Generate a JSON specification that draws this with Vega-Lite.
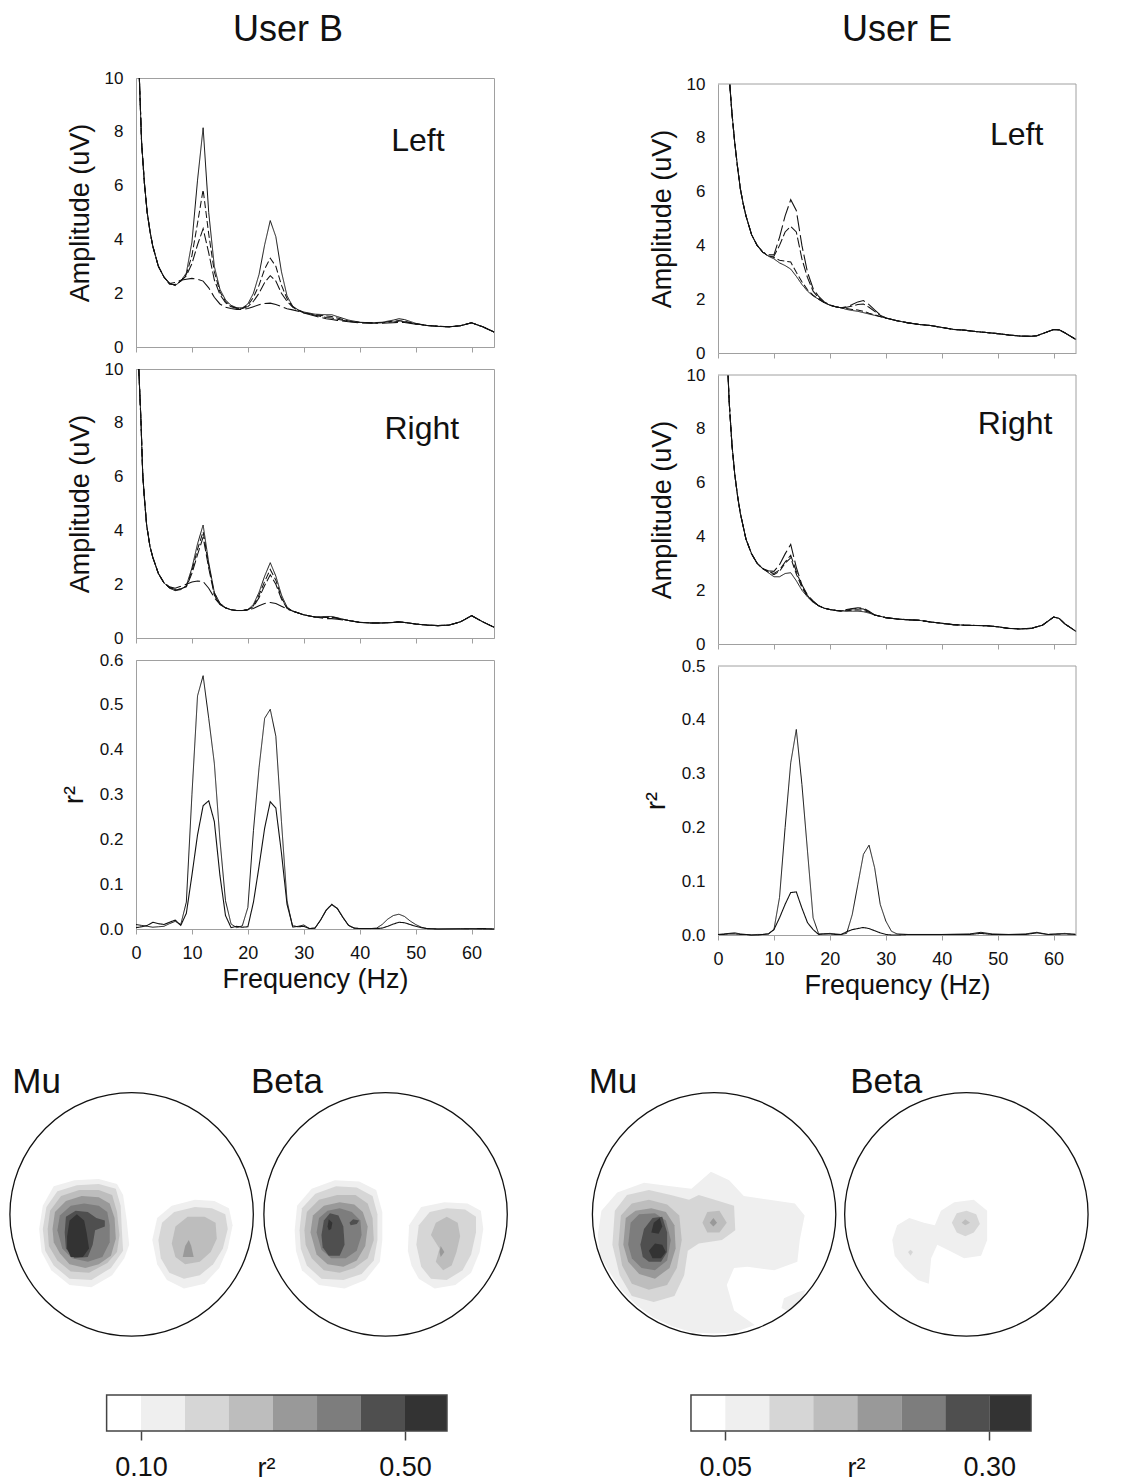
{
  "$schema": "https://vega.github.io/schema/vega-lite/v6.json",
  "padding": {"left": 7, "top": 11, "right": 5, "bottom": 0},
  "config": {
    "font": "Liberation Sans",
    "view": {"stroke": "#a0a0a0"},
    "axis": {"grid": false, "domainColor": "#a0a0a0", "tickColor": "#a0a0a0", "labelColor": "#111", "titleColor": "#111", "labelFont": "Liberation Sans", "titleFont": "Liberation Sans", "titleFontWeight": "normal", "labelFontSize": 17, "titleFontSize": 27, "labelFlush": false},
    "title": {"font": "Liberation Sans", "fontWeight": "normal", "color": "#111"},
    "text": {"font": "Liberation Sans", "color": "#111"}
  },
  "datasets": {
    "bL": [
      {"f":0.6,"S":10,"A":10,"B":10,"L":10},
      {"f":1,"S":7.6,"A":7.6,"B":7.6,"L":7.6},
      {"f":1.5,"S":6.1,"A":6.1,"B":6.1,"L":6.1},
      {"f":2,"S":5,"A":5,"B":5,"L":5},
      {"f":2.5,"S":4.3,"A":4.3,"B":4.3,"L":4.3},
      {"f":3,"S":3.75,"A":3.75,"B":3.75,"L":3.75},
      {"f":4,"S":3,"A":3,"B":3,"L":3},
      {"f":5,"S":2.6,"A":2.6,"B":2.6,"L":2.6},
      {"f":6,"S":2.38,"A":2.36,"B":2.33,"L":2.36},
      {"f":7,"S":2.28,"A":2.3,"B":2.32,"L":2.4},
      {"f":8,"S":2.45,"A":2.45,"B":2.45,"L":2.48},
      {"f":9,"S":2.75,"A":2.7,"B":2.65,"L":2.52},
      {"f":10,"S":3.9,"A":3.4,"B":3.1,"L":2.55},
      {"f":11,"S":6.2,"A":4.6,"B":3.8,"L":2.52},
      {"f":12,"S":8.15,"A":5.85,"B":4.4,"L":2.45},
      {"f":13,"S":5,"A":4.2,"B":3.5,"L":2.2},
      {"f":14,"S":3,"A":2.8,"B":2.5,"L":1.85},
      {"f":15,"S":2.15,"A":2.05,"B":1.95,"L":1.6},
      {"f":16,"S":1.75,"A":1.7,"B":1.65,"L":1.48},
      {"f":17,"S":1.55,"A":1.52,"B":1.5,"L":1.43},
      {"f":18,"S":1.46,"A":1.45,"B":1.44,"L":1.4},
      {"f":19,"S":1.45,"A":1.44,"B":1.43,"L":1.4},
      {"f":20,"S":1.6,"A":1.55,"B":1.5,"L":1.43},
      {"f":21,"S":2,"A":1.85,"B":1.7,"L":1.5},
      {"f":22,"S":2.7,"A":2.3,"B":2,"L":1.57},
      {"f":23,"S":3.8,"A":2.9,"B":2.4,"L":1.62},
      {"f":24,"S":4.7,"A":3.3,"B":2.65,"L":1.63},
      {"f":25,"S":4.1,"A":3,"B":2.45,"L":1.58},
      {"f":26,"S":2.8,"A":2.3,"B":2,"L":1.5},
      {"f":27,"S":1.9,"A":1.8,"B":1.7,"L":1.42},
      {"f":28,"S":1.52,"A":1.5,"B":1.48,"L":1.38},
      {"f":29,"S":1.38,"A":1.37,"B":1.36,"L":1.33},
      {"f":30,"S":1.3,"A":1.28,"B":1.27,"L":1.26},
      {"f":32,"S":1.22,"A":1.2,"B":1.18,"L":1.15},
      {"f":34,"S":1.2,"A":1.15,"B":1.1,"L":1.05},
      {"f":35,"S":1.2,"A":1.13,"B":1.08,"L":1.02},
      {"f":36,"S":1.13,"A":1.08,"B":1.03,"L":0.99},
      {"f":38,"S":1,"A":0.97,"B":0.95,"L":0.94},
      {"f":40,"S":0.92,"A":0.92,"B":0.91,"L":0.9},
      {"f":42,"S":0.9,"A":0.9,"B":0.89,"L":0.88},
      {"f":44,"S":0.92,"A":0.91,"B":0.9,"L":0.88},
      {"f":46,"S":1,"A":0.96,"B":0.93,"L":0.9},
      {"f":47,"S":1.05,"A":0.98,"B":0.95,"L":0.92},
      {"f":48,"S":1.02,"A":0.96,"B":0.94,"L":0.91},
      {"f":50,"S":0.88,"A":0.86,"B":0.86,"L":0.85},
      {"f":52,"S":0.8,"A":0.8,"B":0.8,"L":0.8},
      {"f":54,"S":0.77,"A":0.77,"B":0.77,"L":0.77},
      {"f":56,"S":0.75,"A":0.75,"B":0.75,"L":0.75},
      {"f":58,"S":0.79,"A":0.79,"B":0.79,"L":0.79},
      {"f":60,"S":0.9,"A":0.9,"B":0.9,"L":0.9},
      {"f":62,"S":0.75,"A":0.75,"B":0.75,"L":0.75},
      {"f":64,"S":0.56,"A":0.56,"B":0.56,"L":0.56}
    ],
    "bR": [
      {"f":0.5,"S":10,"A":10,"B":10,"L":10},
      {"f":0.9,"S":8,"A":8,"B":8,"L":8},
      {"f":1.2,"S":6.1,"A":6.1,"B":6.1,"L":6.1},
      {"f":1.5,"S":5.2,"A":5.2,"B":5.2,"L":5.2},
      {"f":1.9,"S":4.2,"A":4.2,"B":4.2,"L":4.2},
      {"f":2.5,"S":3.4,"A":3.4,"B":3.4,"L":3.4},
      {"f":3,"S":3,"A":3,"B":3,"L":3},
      {"f":4,"S":2.4,"A":2.4,"B":2.4,"L":2.4},
      {"f":5,"S":2.05,"A":2.05,"B":2.05,"L":2.05},
      {"f":6,"S":1.85,"A":1.87,"B":1.88,"L":1.9},
      {"f":7,"S":1.76,"A":1.78,"B":1.8,"L":1.85},
      {"f":8,"S":1.8,"A":1.82,"B":1.83,"L":1.92},
      {"f":9,"S":1.95,"A":1.93,"B":1.9,"L":2},
      {"f":10,"S":2.6,"A":2.5,"B":2.4,"L":2.08},
      {"f":11,"S":3.5,"A":3.3,"B":3.1,"L":2.12},
      {"f":12,"S":4.2,"A":3.95,"B":3.75,"L":2.1},
      {"f":13,"S":2.8,"A":2.7,"B":2.6,"L":1.85},
      {"f":14,"S":1.7,"A":1.65,"B":1.6,"L":1.5},
      {"f":15,"S":1.3,"A":1.28,"B":1.25,"L":1.25},
      {"f":16,"S":1.12,"A":1.12,"B":1.12,"L":1.12},
      {"f":17,"S":1.05,"A":1.05,"B":1.05,"L":1.05},
      {"f":18,"S":1.02,"A":1.02,"B":1.02,"L":1.02},
      {"f":19,"S":1.02,"A":1.02,"B":1.02,"L":1.02},
      {"f":20,"S":1.05,"A":1.05,"B":1.05,"L":1.05},
      {"f":21,"S":1.25,"A":1.2,"B":1.17,"L":1.1},
      {"f":22,"S":1.7,"A":1.6,"B":1.5,"L":1.2},
      {"f":23,"S":2.3,"A":2.1,"B":1.95,"L":1.28},
      {"f":24,"S":2.8,"A":2.55,"B":2.35,"L":1.32},
      {"f":25,"S":2.3,"A":2.15,"B":2,"L":1.28},
      {"f":26,"S":1.6,"A":1.5,"B":1.45,"L":1.18},
      {"f":27,"S":1.15,"A":1.12,"B":1.1,"L":1.08},
      {"f":28,"S":1,"A":1,"B":1,"L":1},
      {"f":30,"S":0.86,"A":0.86,"B":0.86,"L":0.86},
      {"f":32,"S":0.78,"A":0.78,"B":0.78,"L":0.78},
      {"f":34,"S":0.8,"A":0.78,"B":0.76,"L":0.72},
      {"f":35,"S":0.8,"A":0.79,"B":0.77,"L":0.72},
      {"f":36,"S":0.75,"A":0.74,"B":0.73,"L":0.7},
      {"f":38,"S":0.65,"A":0.65,"B":0.65,"L":0.65},
      {"f":40,"S":0.58,"A":0.58,"B":0.58,"L":0.58},
      {"f":42,"S":0.56,"A":0.56,"B":0.56,"L":0.56},
      {"f":44,"S":0.56,"A":0.56,"B":0.56,"L":0.56},
      {"f":46,"S":0.58,"A":0.58,"B":0.58,"L":0.58},
      {"f":47,"S":0.6,"A":0.6,"B":0.6,"L":0.6},
      {"f":48,"S":0.58,"A":0.58,"B":0.58,"L":0.58},
      {"f":50,"S":0.52,"A":0.52,"B":0.52,"L":0.52},
      {"f":52,"S":0.48,"A":0.48,"B":0.48,"L":0.48},
      {"f":54,"S":0.46,"A":0.46,"B":0.46,"L":0.46},
      {"f":56,"S":0.48,"A":0.48,"B":0.48,"L":0.48},
      {"f":58,"S":0.6,"A":0.6,"B":0.6,"L":0.6},
      {"f":60,"S":0.83,"A":0.83,"B":0.83,"L":0.83},
      {"f":62,"S":0.6,"A":0.6,"B":0.6,"L":0.6},
      {"f":64,"S":0.4,"A":0.4,"B":0.4,"L":0.4}
    ],
    "bQ": [
      {"f":0,"S":0.01,"D":0.003},{"f":1,"S":0.008,"D":0.005},{"f":2,"S":0.006,"D":0.008},{"f":3,"S":0.004,"D":0.015},
      {"f":4,"S":0.005,"D":0.012},{"f":5,"S":0.006,"D":0.01},{"f":6,"S":0.012,"D":0.015},{"f":7,"S":0.017,"D":0.02},
      {"f":8,"S":0.01,"D":0.008},{"f":9,"S":0.06,"D":0.035},{"f":10,"S":0.3,"D":0.12},{"f":11,"S":0.52,"D":0.21},
      {"f":12,"S":0.565,"D":0.275},{"f":13,"S":0.47,"D":0.286},{"f":14,"S":0.37,"D":0.24},{"f":15,"S":0.2,"D":0.12},
      {"f":16,"S":0.063,"D":0.03},{"f":17,"S":0.011,"D":0.003},{"f":18,"S":0.003,"D":0.006},{"f":19,"S":0.007,"D":0.004},
      {"f":20,"S":0.048,"D":0.005},{"f":21,"S":0.22,"D":0.06},{"f":22,"S":0.36,"D":0.14},{"f":23,"S":0.47,"D":0.225},
      {"f":24,"S":0.49,"D":0.284},{"f":25,"S":0.43,"D":0.27},{"f":26,"S":0.24,"D":0.17},{"f":27,"S":0.063,"D":0.055},
      {"f":28,"S":0.004,"D":0.007},{"f":29,"S":0.006,"D":0.005},{"f":30,"S":0.009,"D":0.006},{"f":31,"S":0.001,"D":0.001},
      {"f":32,"S":0.002,"D":0.002},{"f":33,"S":0.02,"D":0.02},{"f":34,"S":0.042,"D":0.042},{"f":35,"S":0.054,"D":0.055},
      {"f":36,"S":0.045,"D":0.046},{"f":37,"S":0.025,"D":0.026},{"f":38,"S":0.008,"D":0.008},{"f":39,"S":0.002,"D":0.002},
      {"f":40,"S":0.001,"D":0.001},{"f":42,"S":0.001,"D":0.001},{"f":43,"S":0.002,"D":0.001},{"f":44,"S":0.01,"D":0.002},
      {"f":45,"S":0.022,"D":0.006},{"f":46,"S":0.03,"D":0.011},{"f":47,"S":0.033,"D":0.015},{"f":48,"S":0.028,"D":0.014},
      {"f":49,"S":0.018,"D":0.01},{"f":50,"S":0.01,"D":0.006},{"f":51,"S":0.004,"D":0.003},{"f":52,"S":0.001,"D":0.001},
      {"f":54,"S":0,"D":0},{"f":58,"S":0.001,"D":0},{"f":62,"S":0,"D":0.001},{"f":64,"S":0,"D":0}
    ],
    "eL": [
      {"f":2.1,"S":10,"A":10,"B":10,"L":10},
      {"f":2.5,"S":8.9,"A":8.9,"B":8.9,"L":8.9},
      {"f":3,"S":7.8,"A":7.8,"B":7.8,"L":7.8},
      {"f":3.5,"S":6.9,"A":6.9,"B":6.9,"L":6.9},
      {"f":4,"S":6.1,"A":6.1,"B":6.1,"L":6.1},
      {"f":4.5,"S":5.55,"A":5.55,"B":5.55,"L":5.55},
      {"f":5,"S":5.1,"A":5.1,"B":5.1,"L":5.1},
      {"f":6,"S":4.4,"A":4.4,"B":4.4,"L":4.4},
      {"f":7,"S":4,"A":4,"B":4,"L":4},
      {"f":8,"S":3.75,"A":3.75,"B":3.75,"L":3.75},
      {"f":9,"S":3.6,"A":3.62,"B":3.6,"L":3.65},
      {"f":10,"S":3.5,"A":3.55,"B":3.6,"L":3.65},
      {"f":11,"S":3.35,"A":3.45,"B":4,"L":4.3},
      {"f":12,"S":3.25,"A":3.42,"B":4.5,"L":5.1},
      {"f":13,"S":3.12,"A":3.38,"B":4.7,"L":5.7},
      {"f":14,"S":2.85,"A":3,"B":4.5,"L":5.3},
      {"f":15,"S":2.55,"A":2.65,"B":3.5,"L":4},
      {"f":16,"S":2.3,"A":2.35,"B":2.8,"L":3},
      {"f":17,"S":2.12,"A":2.15,"B":2.3,"L":2.4},
      {"f":18,"S":2,"A":2,"B":2.05,"L":2.1},
      {"f":19,"S":1.87,"A":1.87,"B":1.88,"L":1.9},
      {"f":20,"S":1.78,"A":1.78,"B":1.78,"L":1.78},
      {"f":21,"S":1.72,"A":1.72,"B":1.72,"L":1.72},
      {"f":22,"S":1.68,"A":1.68,"B":1.68,"L":1.68},
      {"f":23,"S":1.62,"A":1.65,"B":1.7,"L":1.72},
      {"f":24,"S":1.58,"A":1.62,"B":1.75,"L":1.8},
      {"f":25,"S":1.55,"A":1.6,"B":1.8,"L":1.9},
      {"f":26,"S":1.5,"A":1.55,"B":1.82,"L":1.95},
      {"f":27,"S":1.45,"A":1.48,"B":1.7,"L":1.8},
      {"f":28,"S":1.4,"A":1.42,"B":1.55,"L":1.6},
      {"f":29,"S":1.35,"A":1.36,"B":1.4,"L":1.42},
      {"f":30,"S":1.3,"A":1.3,"B":1.3,"L":1.3},
      {"f":32,"S":1.2,"A":1.2,"B":1.2,"L":1.2},
      {"f":34,"S":1.12,"A":1.12,"B":1.12,"L":1.12},
      {"f":36,"S":1.06,"A":1.06,"B":1.06,"L":1.06},
      {"f":38,"S":1.02,"A":1.02,"B":1.02,"L":1.02},
      {"f":40,"S":0.95,"A":0.95,"B":0.95,"L":0.95},
      {"f":42,"S":0.88,"A":0.88,"B":0.88,"L":0.88},
      {"f":44,"S":0.85,"A":0.85,"B":0.85,"L":0.85},
      {"f":46,"S":0.8,"A":0.8,"B":0.8,"L":0.8},
      {"f":48,"S":0.76,"A":0.76,"B":0.76,"L":0.76},
      {"f":50,"S":0.72,"A":0.72,"B":0.72,"L":0.72},
      {"f":52,"S":0.67,"A":0.67,"B":0.67,"L":0.67},
      {"f":54,"S":0.63,"A":0.63,"B":0.63,"L":0.63},
      {"f":56,"S":0.62,"A":0.62,"B":0.62,"L":0.62},
      {"f":57,"S":0.64,"A":0.64,"B":0.64,"L":0.64},
      {"f":58,"S":0.72,"A":0.72,"B":0.72,"L":0.72},
      {"f":60,"S":0.87,"A":0.87,"B":0.87,"L":0.87},
      {"f":61,"S":0.86,"A":0.86,"B":0.86,"L":0.86},
      {"f":62,"S":0.75,"A":0.75,"B":0.75,"L":0.75},
      {"f":64,"S":0.5,"A":0.5,"B":0.5,"L":0.5}
    ],
    "eR": [
      {"f":1.8,"S":10,"A":10,"B":10,"L":10},
      {"f":2,"S":9,"A":9,"B":9,"L":9},
      {"f":2.5,"S":7.4,"A":7.4,"B":7.4,"L":7.4},
      {"f":3,"S":6.3,"A":6.3,"B":6.3,"L":6.3},
      {"f":3.5,"S":5.5,"A":5.5,"B":5.5,"L":5.5},
      {"f":4,"S":4.85,"A":4.85,"B":4.85,"L":4.85},
      {"f":5,"S":3.9,"A":3.9,"B":3.9,"L":3.9},
      {"f":6,"S":3.35,"A":3.35,"B":3.35,"L":3.35},
      {"f":7,"S":3,"A":3,"B":3,"L":3},
      {"f":8,"S":2.8,"A":2.8,"B":2.8,"L":2.8},
      {"f":9,"S":2.65,"A":2.68,"B":2.7,"L":2.72},
      {"f":10,"S":2.5,"A":2.58,"B":2.62,"L":2.7},
      {"f":11,"S":2.5,"A":2.7,"B":2.75,"L":2.95},
      {"f":12,"S":2.62,"A":3,"B":3.05,"L":3.35},
      {"f":13,"S":2.65,"A":3.2,"B":3.3,"L":3.7},
      {"f":14,"S":2.35,"A":2.6,"B":2.7,"L":2.85},
      {"f":15,"S":2,"A":2.1,"B":2.15,"L":2.2},
      {"f":16,"S":1.75,"A":1.78,"B":1.8,"L":1.82},
      {"f":17,"S":1.55,"A":1.57,"B":1.58,"L":1.6},
      {"f":18,"S":1.42,"A":1.42,"B":1.42,"L":1.42},
      {"f":19,"S":1.33,"A":1.33,"B":1.33,"L":1.33},
      {"f":20,"S":1.28,"A":1.28,"B":1.28,"L":1.28},
      {"f":21,"S":1.25,"A":1.25,"B":1.25,"L":1.25},
      {"f":22,"S":1.23,"A":1.23,"B":1.23,"L":1.23},
      {"f":23,"S":1.22,"A":1.24,"B":1.26,"L":1.28},
      {"f":24,"S":1.22,"A":1.26,"B":1.3,"L":1.32},
      {"f":25,"S":1.22,"A":1.27,"B":1.32,"L":1.35},
      {"f":26,"S":1.2,"A":1.25,"B":1.3,"L":1.33},
      {"f":27,"S":1.15,"A":1.18,"B":1.2,"L":1.22},
      {"f":28,"S":1.08,"A":1.08,"B":1.08,"L":1.08},
      {"f":30,"S":0.98,"A":0.98,"B":0.98,"L":0.98},
      {"f":32,"S":0.93,"A":0.93,"B":0.93,"L":0.93},
      {"f":34,"S":0.9,"A":0.9,"B":0.9,"L":0.9},
      {"f":36,"S":0.88,"A":0.88,"B":0.88,"L":0.88},
      {"f":38,"S":0.82,"A":0.82,"B":0.82,"L":0.82},
      {"f":40,"S":0.77,"A":0.77,"B":0.77,"L":0.77},
      {"f":42,"S":0.72,"A":0.72,"B":0.72,"L":0.72},
      {"f":44,"S":0.7,"A":0.7,"B":0.7,"L":0.7},
      {"f":46,"S":0.69,"A":0.69,"B":0.69,"L":0.69},
      {"f":48,"S":0.68,"A":0.68,"B":0.68,"L":0.68},
      {"f":50,"S":0.64,"A":0.64,"B":0.64,"L":0.64},
      {"f":52,"S":0.58,"A":0.58,"B":0.58,"L":0.58},
      {"f":54,"S":0.56,"A":0.56,"B":0.56,"L":0.56},
      {"f":56,"S":0.58,"A":0.58,"B":0.58,"L":0.58},
      {"f":58,"S":0.7,"A":0.7,"B":0.7,"L":0.7},
      {"f":60,"S":1,"A":1,"B":1,"L":1},
      {"f":61,"S":0.95,"A":0.95,"B":0.95,"L":0.95},
      {"f":62,"S":0.75,"A":0.75,"B":0.75,"L":0.75},
      {"f":64,"S":0.47,"A":0.47,"B":0.47,"L":0.47}
    ],
    "eQ": [
      {"f":0,"S":0.001,"D":0.001},{"f":1,"S":0.002,"D":0.001},{"f":2,"S":0.003,"D":0.002},{"f":3,"S":0.004,"D":0.002},
      {"f":4,"S":0.002,"D":0.001},{"f":5,"S":0.001,"D":0.001},{"f":6,"S":0,"D":0},{"f":7,"S":0.001,"D":0},
      {"f":8,"S":0.001,"D":0.001},{"f":9,"S":0.002,"D":0.002},{"f":10,"S":0.01,"D":0.01},{"f":11,"S":0.07,"D":0.032},
      {"f":12,"S":0.2,"D":0.057},{"f":13,"S":0.32,"D":0.079},{"f":14,"S":0.382,"D":0.08},{"f":15,"S":0.28,"D":0.05},
      {"f":16,"S":0.156,"D":0.023},{"f":17,"S":0.032,"D":0.01},{"f":18,"S":0.002,"D":0.001},{"f":19,"S":0.002,"D":0.002},
      {"f":20,"S":0.003,"D":0.002},{"f":21,"S":0.002,"D":0.001},{"f":22,"S":0.001,"D":0.001},{"f":23,"S":0.003,"D":0.006},
      {"f":24,"S":0.038,"D":0.01},{"f":25,"S":0.094,"D":0.012},{"f":26,"S":0.15,"D":0.014},{"f":27,"S":0.167,"D":0.012},
      {"f":28,"S":0.125,"D":0.008},{"f":29,"S":0.057,"D":0.004},{"f":30,"S":0.026,"D":0.001},{"f":31,"S":0.007,"D":0},
      {"f":32,"S":0.002,"D":0},{"f":34,"S":0.001,"D":0.001},{"f":40,"S":0.001,"D":0.001},{"f":45,"S":0.002,"D":0.001},
      {"f":47,"S":0.005,"D":0.003},{"f":49,"S":0.002,"D":0.001},{"f":52,"S":0.001,"D":0.001},{"f":55,"S":0.002,"D":0.001},
      {"f":57,"S":0.005,"D":0.004},{"f":59,"S":0.001,"D":0.001},{"f":62,"S":0.003,"D":0.002},{"f":64,"S":0.001,"D":0.001}
    ],
    "topo": [
      {"u":"B","p":"1a","lv":1,"x":[-76,-73,-64,-47,-27,-12,-7,-4,-2,-6,-16,-33,-51,-66,-74],"y":[-12,7,23,28,29,25,16,-5,-25,-36,-50,-60,-58,-46,-31]},
      {"u":"B","p":"1b","lv":1,"x":[17,21,33,52,68,80,83,79,72,60,43,29,21],"y":[-21,-3,7,12,11,5,-9,-28,-44,-57,-61,-54,-41]},
      {"u":"B","p":"1c","lv":1,"x":[134,136,148,167,187,201,206,206,204,192,175,154,140,135],"y":[-13,7,21,28,27,20,2,-21,-39,-54,-61,-58,-46,-30]},
      {"u":"B","p":"1d","lv":1,"x":[227,228,238,257,276,287,289,286,279,266,249,236,230],"y":[-30,-9,6,10,9,3,-12,-31,-48,-58,-61,-53,-42]},
      {"u":"E","p":"1e","lv":1,"x":[385,383,386,399,421,443,460,476,491,503,524,545,553,549,547,528,506,495,489,495,512,495,478,461,444,429,415,402,393],"y":[-34,-17,3,18,26,23,21,35,28,15,12,9,-1,-21,-39,-46,-43,-44,-58,-79,-91,-97,-98,-97,-92,-85,-75,-62,-48]},
      {"u":"E","p":"1f","lv":1,"x":[536,547,554,549,540,534],"y":[-69,-64,-62,-73,-80,-77]},
      {"u":"E","p":"1g","lv":1,"x":[625,629,639,651,660,665,676,692,703,703,698,684,672,662,657,655,646,635,627],"y":[-21,-9,-3,-7,-9,3,10,12,3,-21,-34,-36,-30,-25,-36,-57,-54,-44,-34]},
      {"u":"B","p":"2a","lv":2,"x":[-73,-70,-61,-45,-27,-13,-9,-8,-7,-17,-33,-51,-64,-71],"y":[-12,6,19,24,25,21,7,-13,-30,-44,-54,-53,-42,-30]},
      {"u":"B","p":"2b","lv":2,"x":[22,25,35,52,66,77,79,75,67,56,43,31,24],"y":[-21,-7,2,6,5,0,-12,-28,-41,-50,-53,-48,-36]},
      {"u":"B","p":"2c","lv":2,"x":[138,140,151,168,185,198,202,202,199,189,174,156,144,139],"y":[-13,5,17,23,22,15,0,-21,-38,-49,-54,-53,-42,-28]},
      {"u":"B","p":"2d","lv":2,"x":[234,236,245,259,274,283,283,279,272,259,246,238],"y":[-25,-9,2,5,4,-2,-15,-33,-46,-54,-53,-43]},
      {"u":"E","p":"2e","lv":2,"x":[395,397,407,425,443,458,466,479,495,496,485,466,457,454,446,429,411,401],"y":[-25,3,16,20,16,12,16,12,7,-13,-21,-24,-30,-50,-67,-72,-67,-50]},
      {"u":"E","p":"2f","lv":2,"x":[674,678,686,694,697,692,685,678],"y":[-7,1,3,0,-8,-15,-18,-15]},
      {"u":"E","p":"2g","lv":2,"x":[638,640,642,640],"y":[-31,-29,-31,-34]},
      {"u":"B","p":"3a","lv":3,"x":[-69,-67,-58,-43,-27,-16,-12,-10,-12,-20,-35,-50,-61,-68],"y":[-12,3,15,20,20,16,2,-17,-31,-40,-48,-47,-38,-26]},
      {"u":"B","p":"3b","lv":3,"x":[33,36,46,60,69,70,65,56,44,36],"y":[-24,-10,-2,-2,-7,-20,-31,-39,-41,-35]},
      {"u":"B","p":"3c","lv":3,"x":[142,144,154,169,184,194,198,199,194,183,171,158,148,143],"y":[-13,2,12,16,16,9,-3,-21,-36,-44,-48,-46,-36,-25]},
      {"u":"B","p":"3d","lv":3,"x":[246,250,259,268,270,267,263,256,250,253],"y":[-17,-7,-2,-7,-18,-31,-42,-46,-39,-28]},
      {"u":"E","p":"3e","lv":3,"x":[400,402,411,425,440,450,452,448,440,425,411,403],"y":[-25,-1,9,12,8,-1,-21,-44,-58,-62,-57,-42]},
      {"u":"E","p":"3f","lv":3,"x":[469,473,483,489,483,473],"y":[-7,2,3,-7,-15,-15]},
      {"u":"E","p":"3g","lv":3,"x":[682,685,689,685],"y":[-7,-4,-7,-9]},
      {"u":"B","p":"4a","lv":4,"x":[-65,-63,-54,-41,-27,-18,-14,-13,-17,-27,-38,-51,-59,-64],"y":[-12,2,11,15,14,9,-3,-20,-34,-41,-44,-41,-32,-23]},
      {"u":"B","p":"4b","lv":4,"x":[42,44,47,49,51],"y":[-35,-26,-21,-26,-35]},
      {"u":"B","p":"4c","lv":4,"x":[147,149,158,171,183,190,194,192,185,174,161,152],"y":[-15,-1,7,10,8,2,-10,-26,-38,-43,-41,-33]},
      {"u":"B","p":"4d","lv":4,"x":[253,254,257,254],"y":[-31,-26,-31,-35]},
      {"u":"E","p":"4e","lv":4,"x":[404,406,414,427,439,446,447,442,430,417,408],"y":[-25,-3,3,5,2,-9,-28,-44,-53,-49,-39]},
      {"u":"E","p":"4f","lv":4,"x":[475,478,481,478],"y":[-7,-3,-7,-10]},
      {"u":"B","p":"5a","lv":5,"x":[-61,-59,-50,-39,-27,-20,-18,-18,-24,-36,-49,-57],"y":[-13,-1,7,9,7,2,-9,-23,-35,-39,-36,-28]},
      {"u":"B","p":"5c","lv":5,"x":[152,154,161,171,181,188,189,185,176,164,156],"y":[-15,-3,3,5,2,-5,-17,-30,-36,-36,-29]},
      {"u":"E","p":"5e","lv":5,"x":[408,410,417,430,439,443,440,430,419,411],"y":[-25,-7,0,1,-5,-21,-38,-46,-44,-36]},
      {"u":"B","p":"6a","lv":6,"x":[-55,-54,-46,-36,-29,-22,-22,-30,-32,-36,-47,-54],"y":[-15,-2,3,2,-3,-5,-10,-13,-25,-35,-36,-28]},
      {"u":"B","p":"6c","lv":6,"x":[156,158,163,170,174,175,171,162,157],"y":[-17,-5,1,-1,-10,-25,-34,-34,-27]},
      {"u":"B","p":"6d","lv":6,"x":[179,182,187,185,180],"y":[-7,-4,-5,-8,-9]},
      {"u":"E","p":"6e","lv":6,"x":[418,421,428,436,440,440,435,425,420],"y":[-25,-12,-3,-2,-15,-31,-39,-39,-35]},
      {"u":"B","p":"7a","lv":7,"x":[-53,-51,-45,-39,-37,-35,-40,-50,-53],"y":[-18,-5,0,-5,-15,-28,-35,-35,-28]},
      {"u":"B","p":"7c","lv":7,"x":[161,162,165,164,162],"y":[-10,-4,-7,-12,-13]},
      {"u":"E","p":"7e","lv":7,"x":[427,429,434,436,433],"y":[-15,-7,-3,-10,-16]},
      {"u":"E","p":"7f","lv":7,"x":[425,430,436,439,435,428],"y":[-30,-24,-25,-31,-36,-36]}
    ],
    "heads": [
      {"u":"B","x":0,"y":0},{"u":"B","x":208.7,"y":0},{"u":"E","x":478.6,"y":0},{"u":"E","x":685.9,"y":0}
    ],
    "cbB": [
      {"lo":0.0479,"hi":0.1,"lv":0},{"lo":0.1,"hi":0.1667,"lv":1},{"lo":0.1667,"hi":0.2333,"lv":2},{"lo":0.2333,"hi":0.3,"lv":3},
      {"lo":0.3,"hi":0.3667,"lv":4},{"lo":0.3667,"hi":0.4333,"lv":5},{"lo":0.4333,"hi":0.5,"lv":6},{"lo":0.5,"hi":0.5636,"lv":7}
    ],
    "cbE": [
      {"lo":0.0175,"hi":0.05,"lv":0},{"lo":0.05,"hi":0.0917,"lv":1},{"lo":0.0917,"hi":0.1333,"lv":2},{"lo":0.1333,"hi":0.175,"lv":3},
      {"lo":0.175,"hi":0.2167,"lv":4},{"lo":0.2167,"hi":0.2583,"lv":5},{"lo":0.2583,"hi":0.3,"lv":6},{"lo":0.3,"hi":0.3395,"lv":7}
    ]
  },
  "columns": 2,
  "align": "each",
  "bounds": "flush",
  "spacing": {"row": 16, "column": 224},
  "concat": [
    {
      "title": {"text": "User B", "fontSize": 36, "anchor": "middle", "baseline": "alphabetic", "offset": -8, "dx": -27},
      "width": 358, "height": 269,
      "layer": [
        {"data": {"name": "bL"}, "transform": [{"fold": ["S","A","B","L"], "as": ["s","v"]}],
         "mark": {"type": "line", "color": "#111"},
         "encoding": {
           "x": {"field": "f", "type": "quantitative", "scale": {"domain": [0,64], "nice": false, "zero": false}, "axis": {"values": [0,10,20,30,40,50,60], "labels": false, "tickSize": 5, "title": null}},
           "y": {"field": "v", "type": "quantitative", "scale": {"domain": [0,10], "nice": false}, "axis": {"values": [0,2,4,6,8,10], "tickSize": 0, "labelPadding": 13, "title": "Amplitude (uV)", "titlePadding": 10}},
           "strokeDash": {"field": "s", "type": "nominal", "scale": {"domain": ["S","A","B","L"], "range": [[1,0],[7,3],[10,3],[16,4]]}, "legend": null},
           "strokeWidth": {"field": "s", "type": "nominal", "scale": {"domain": ["S","A","B","L"], "range": [1,1.1,1.1,1.5]}, "legend": null}
         }},
        {"data": {"values": [{}]}, "mark": {"type": "text", "fontSize": 32, "align": "center", "baseline": "middle"},
         "encoding": {"x": {"datum": 50.4}, "y": {"datum": 7.65}, "text": {"value": "Left"}}}
      ]
    },
    {
      "title": {"text": "User E", "fontSize": 36, "anchor": "middle", "baseline": "alphabetic", "offset": -2},
      "width": 358, "height": 275, "view": {"stroke": null},
      "layer": [
        {"data": {"name": "eL"}, "transform": [{"fold": ["S","A","B","L"], "as": ["s","v"]}],
         "mark": {"type": "line", "color": "#111"},
         "encoding": {
           "x": {"field": "f", "type": "quantitative", "scale": {"domain": [0,64], "nice": false, "zero": false}, "axis": {"values": [0,10,20,30,40,50,60], "labels": false, "tickSize": 5, "title": null}},
           "y": {"field": "v", "type": "quantitative", "scale": {"domain": [0,10], "nice": false, "range": [275, 6]}, "axis": {"values": [0,2,4,6,8,10], "tickSize": 0, "labelPadding": 13, "title": "Amplitude (uV)", "titlePadding": 10}},
           "strokeDash": {"field": "s", "type": "nominal", "scale": {"domain": ["S","A","B","L"], "range": [[1,0],[7,3],[10,3],[16,4]]}, "legend": null},
           "strokeWidth": {"field": "s", "type": "nominal", "scale": {"domain": ["S","A","B","L"], "range": [1,1.1,1.1,1.5]}, "legend": null}
         }},
        {"data": {"values": [{}]}, "mark": {"type": "rule", "color": "#a0a0a0"}, "encoding": {"y": {"datum": 10}}},
        {"data": {"values": [{}]}, "mark": {"type": "rule", "color": "#a0a0a0"}, "encoding": {"x": {"datum": 64}, "y": {"datum": 0}, "y2": {"datum": 10}}},
        {"data": {"values": [{}]}, "mark": {"type": "text", "fontSize": 32, "align": "center", "baseline": "middle"},
         "encoding": {"x": {"datum": 53.4}, "y": {"datum": 8.1}, "text": {"value": "Left"}}}
      ]
    },
    {
      "width": 358, "height": 269,
      "layer": [
        {"data": {"name": "bR"}, "transform": [{"fold": ["S","A","B","L"], "as": ["s","v"]}],
         "mark": {"type": "line", "color": "#111"},
         "encoding": {
           "x": {"field": "f", "type": "quantitative", "scale": {"domain": [0,64], "nice": false, "zero": false}, "axis": {"values": [0,10,20,30,40,50,60], "labels": false, "tickSize": 5, "title": null}},
           "y": {"field": "v", "type": "quantitative", "scale": {"domain": [0,10], "nice": false}, "axis": {"values": [0,2,4,6,8,10], "tickSize": 0, "labelPadding": 13, "title": "Amplitude (uV)", "titlePadding": 10}},
           "strokeDash": {"field": "s", "type": "nominal", "scale": {"domain": ["S","A","B","L"], "range": [[1,0],[7,3],[10,3],[16,4]]}, "legend": null},
           "strokeWidth": {"field": "s", "type": "nominal", "scale": {"domain": ["S","A","B","L"], "range": [1,1.1,1.1,1.5]}, "legend": null}
         }},
        {"data": {"values": [{}]}, "mark": {"type": "text", "fontSize": 32, "align": "center", "baseline": "middle"},
         "encoding": {"x": {"datum": 51.1}, "y": {"datum": 7.76}, "text": {"value": "Right"}}}
      ]
    },
    {
      "width": 358, "height": 275, "view": {"stroke": null},
      "layer": [
        {"data": {"name": "eR"}, "transform": [{"fold": ["S","A","B","L"], "as": ["s","v"]}],
         "mark": {"type": "line", "color": "#111"},
         "encoding": {
           "x": {"field": "f", "type": "quantitative", "scale": {"domain": [0,64], "nice": false, "zero": false}, "axis": {"values": [0,10,20,30,40,50,60], "labels": false, "tickSize": 5, "title": null}},
           "y": {"field": "v", "type": "quantitative", "scale": {"domain": [0,10], "nice": false, "range": [275, 6]}, "axis": {"values": [0,2,4,6,8,10], "tickSize": 0, "labelPadding": 13, "title": "Amplitude (uV)", "titlePadding": 10}},
           "strokeDash": {"field": "s", "type": "nominal", "scale": {"domain": ["S","A","B","L"], "range": [[1,0],[7,3],[10,3],[16,4]]}, "legend": null},
           "strokeWidth": {"field": "s", "type": "nominal", "scale": {"domain": ["S","A","B","L"], "range": [1,1.1,1.1,1.5]}, "legend": null}
         }},
        {"data": {"values": [{}]}, "mark": {"type": "rule", "color": "#a0a0a0"}, "encoding": {"y": {"datum": 10}}},
        {"data": {"values": [{}]}, "mark": {"type": "rule", "color": "#a0a0a0"}, "encoding": {"x": {"datum": 64}, "y": {"datum": 0}, "y2": {"datum": 10}}},
        {"data": {"values": [{}]}, "mark": {"type": "text", "fontSize": 32, "align": "center", "baseline": "middle"},
         "encoding": {"x": {"datum": 53.1}, "y": {"datum": 8.17}, "text": {"value": "Right"}}}
      ]
    },
    {
      "width": 358, "height": 269,
      "data": {"name": "bQ"},
      "transform": [{"fold": ["S","D"], "as": ["s","v"]}],
      "mark": {"type": "line", "color": "#111"},
      "encoding": {
        "x": {"field": "f", "type": "quantitative", "scale": {"domain": [0,64], "nice": false, "zero": false}, "axis": {"values": [0,10,20,30,40,50,60], "tickSize": 5, "labelFontSize": 18, "labelPadding": 10, "title": "Frequency (Hz)", "titlePadding": 4}},
        "y": {"field": "v", "type": "quantitative", "scale": {"domain": [0,0.6], "nice": false}, "axis": {"values": [0,0.1,0.2,0.3,0.4,0.5,0.6], "format": ".1f", "tickSize": 0, "labelPadding": 13, "title": "r²", "titlePadding": 11}},
        "strokeDash": {"field": "s", "type": "nominal", "scale": {"domain": ["S","D"], "range": [[1,0],[14,6]]}, "legend": null},
        "strokeWidth": {"field": "s", "type": "nominal", "scale": {"domain": ["S","D"], "range": [1,1.5]}, "legend": null}
      }
    },
    {
      "width": 358, "height": 275, "view": {"stroke": null},
      "layer": [
        {"data": {"name": "eQ"}, "transform": [{"fold": ["S","D"], "as": ["s","v"]}],
         "mark": {"type": "line", "color": "#111"},
         "encoding": {
           "x": {"field": "f", "type": "quantitative", "scale": {"domain": [0,64], "nice": false, "zero": false}, "axis": {"values": [0,10,20,30,40,50,60], "tickSize": 5, "labelFontSize": 18, "labelPadding": 10, "title": "Frequency (Hz)", "titlePadding": 4}},
           "y": {"field": "v", "type": "quantitative", "scale": {"domain": [0,0.5], "nice": false, "range": [275, 6]}, "axis": {"values": [0,0.1,0.2,0.3,0.4,0.5], "format": ".1f", "tickSize": 0, "labelPadding": 13, "title": "r²", "titlePadding": 11}},
           "strokeDash": {"field": "s", "type": "nominal", "scale": {"domain": ["S","D"], "range": [[1,0],[14,6]]}, "legend": null},
           "strokeWidth": {"field": "s", "type": "nominal", "scale": {"domain": ["S","D"], "range": [1,1.5]}, "legend": null}
         }},
        {"data": {"values": [{}]}, "mark": {"type": "rule", "color": "#a0a0a0"}, "encoding": {"y": {"datum": 0.5}}},
        {"data": {"values": [{}]}, "mark": {"type": "rule", "color": "#a0a0a0"}, "encoding": {"x": {"datum": 64}, "y": {"datum": 0}, "y2": {"datum": 0.5}}}
      ]
    },
    {
      "width": 358, "height": 428, "view": {"stroke": null},
      "layer": [
        {"data": {"name": "topo"}, "transform": [{"filter": "datum.u == 'B'"}, {"flatten": ["x","y"]}],
         "mark": {"type": "line", "filled": true, "strokeWidth": 0},
         "encoding": {
           "x": {"field": "x", "type": "quantitative", "scale": {"domain": [3.6, 297.8], "nice": false, "zero": false}, "axis": null},
           "y": {"field": "y", "type": "quantitative", "scale": {"domain": [-135.3, 216.4], "nice": false, "zero": false}, "axis": null},
           "color": {"field": "lv", "type": "ordinal", "scale": {"domain": [0,1,2,3,4,5,6,7], "range": ["#ffffff","#efefef","#d6d6d6","#bdbdbd","#999999","#7d7d7d","#4f4f4f","#333333"]}, "legend": null},
           "detail": {"field": "p"},
           "order": {"value": null}
         }},
        {"data": {"name": "heads"}, "transform": [{"filter": "datum.u == 'B'"}],
         "mark": {"type": "point", "shape": "circle", "size": 59244, "filled": false, "stroke": "#111", "strokeWidth": 1.3, "opacity": 1},
         "encoding": {"x": {"field": "x", "type": "quantitative"}, "y": {"field": "y", "type": "quantitative"}}},
        {"data": {"values": [{}]}, "mark": {"type": "text", "fontSize": 35, "align": "left", "baseline": "alphabetic"},
         "encoding": {"x": {"datum": -98}, "y": {"datum": 99.4}, "text": {"value": "Mu"}}},
        {"data": {"values": [{}]}, "mark": {"type": "text", "fontSize": 35, "align": "left", "baseline": "alphabetic"},
         "encoding": {"x": {"datum": 98.1}, "y": {"datum": 99.4}, "text": {"value": "Beta"}}}
      ]
    },
    {
      "width": 358, "height": 428, "view": {"stroke": null},
      "layer": [
        {"data": {"name": "topo"}, "transform": [{"filter": "datum.u == 'E'"}, {"flatten": ["x","y"]}],
         "mark": {"type": "line", "filled": true, "strokeWidth": 0},
         "encoding": {
           "x": {"field": "x", "type": "quantitative", "scale": {"domain": [481.8, 776.0], "nice": false, "zero": false}, "axis": null},
           "y": {"field": "y", "type": "quantitative", "scale": {"domain": [-135.3, 216.4], "nice": false, "zero": false}, "axis": null},
           "color": {"field": "lv", "type": "ordinal", "scale": {"domain": [0,1,2,3,4,5,6,7], "range": ["#ffffff","#efefef","#d6d6d6","#bdbdbd","#999999","#7d7d7d","#4f4f4f","#333333"]}, "legend": null},
           "detail": {"field": "p"},
           "order": {"value": null}
         }},
        {"data": {"name": "heads"}, "transform": [{"filter": "datum.u == 'E'"}],
         "mark": {"type": "point", "shape": "circle", "size": 59244, "filled": false, "stroke": "#111", "strokeWidth": 1.3, "opacity": 1},
         "encoding": {"x": {"field": "x", "type": "quantitative"}, "y": {"field": "y", "type": "quantitative"}}},
        {"data": {"values": [{}]}, "mark": {"type": "text", "fontSize": 35, "align": "left", "baseline": "alphabetic"},
         "encoding": {"x": {"datum": 375.5}, "y": {"datum": 99.4}, "text": {"value": "Mu"}}},
        {"data": {"values": [{}]}, "mark": {"type": "text", "fontSize": 35, "align": "left", "baseline": "alphabetic"},
         "encoding": {"x": {"datum": 590.5}, "y": {"datum": 99.4}, "text": {"value": "Beta"}}}
      ]
    },
    {
      "width": 358, "height": 36, "view": {"stroke": null},
      "layer": [
        {"data": {"name": "cbB"}, "mark": {"type": "rect"},
         "encoding": {
           "x": {"field": "lo", "type": "quantitative", "scale": {"domain": [0.092424, 0.634848], "nice": false, "zero": false},
                 "axis": {"values": [0.1, 0.5], "format": ".2f", "domain": false, "tickSize": 9, "tickColor": "#444", "tickWidth": 1.5, "labelFontSize": 27, "labelPadding": 14, "title": "r²", "titleFontSize": 27, "titleX": 130, "titleY": 45, "titleBaseline": "alphabetic"}},
           "x2": {"field": "hi"},
           "color": {"field": "lv", "type": "ordinal", "scale": {"domain": [0,1,2,3,4,5,6,7], "range": ["#ffffff","#efefef","#d6d6d6","#bdbdbd","#999999","#7d7d7d","#4f4f4f","#333333"]}, "legend": null}
         }},
        {"data": {"values": [{}]}, "mark": {"type": "rect", "fill": null, "stroke": "#444", "strokeWidth": 1.5},
         "encoding": {"x": {"datum": 0.0479}, "x2": {"datum": 0.5636}}}
      ]
    },
    {
      "width": 358, "height": 36, "view": {"stroke": null},
      "layer": [
        {"data": {"name": "cbE"}, "mark": {"type": "rect"},
         "encoding": {
           "x": {"field": "lo", "type": "quantitative", "scale": {"domain": [0.043087, 0.382102], "nice": false, "zero": false},
                 "axis": {"values": [0.05, 0.3], "format": ".2f", "domain": false, "tickSize": 9, "tickColor": "#444", "tickWidth": 1.5, "labelFontSize": 27, "labelPadding": 14, "title": "r²", "titleFontSize": 27, "titleX": 138, "titleY": 45, "titleBaseline": "alphabetic"}},
           "x2": {"field": "hi"},
           "color": {"field": "lv", "type": "ordinal", "scale": {"domain": [0,1,2,3,4,5,6,7], "range": ["#ffffff","#efefef","#d6d6d6","#bdbdbd","#999999","#7d7d7d","#4f4f4f","#333333"]}, "legend": null}
         }},
        {"data": {"values": [{}]}, "mark": {"type": "rect", "fill": null, "stroke": "#444", "strokeWidth": 1.5},
         "encoding": {"x": {"datum": 0.0175}, "x2": {"datum": 0.3395}}}
      ]
    }
  ]
}
